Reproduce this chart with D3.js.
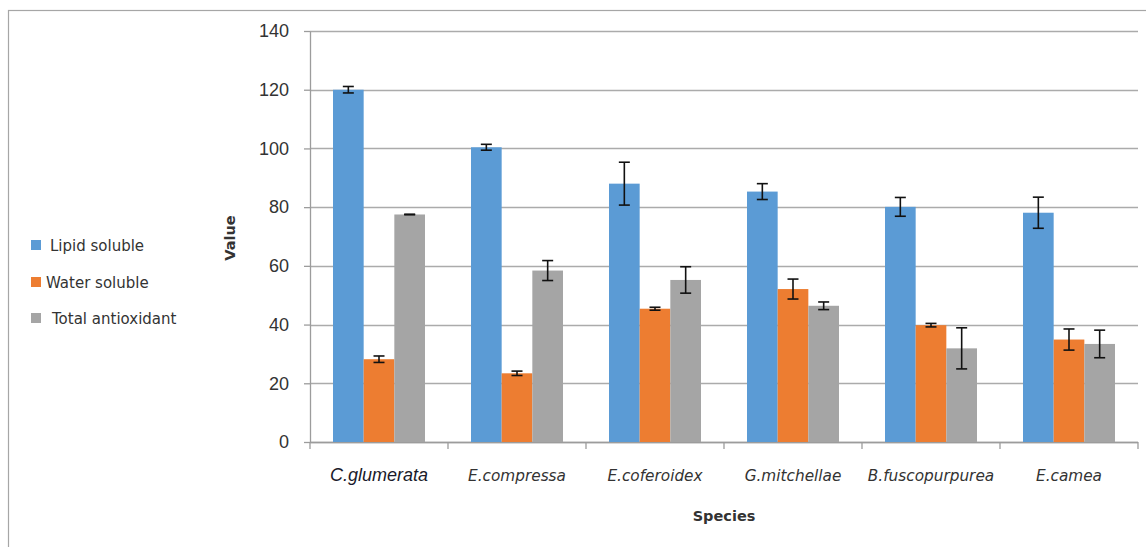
<!DOCTYPE html>
<html><head><meta charset="utf-8">
<script src="https://cdn.jsdelivr.net/npm/d3@7/dist/d3.min.js"></script>
<style>html,body{margin:0;padding:0;background:#fff;}svg{display:block;}</style>
</head><body>
<svg id="chart" width="1146" height="547"></svg>
<script>
const categories = ["C.glumerata","E.compressa","E.coferoidex","G.mitchellae","B.fuscopurpurea","E.camea"];
const seriesNames = ["Lipid soluble","Water soluble","Total antioxidant"];
const lipid    = [120.0, 100.4, 88.0, 85.3, 80.1, 78.1];
const lipidErr = [1.1, 1.0, 7.3, 2.7, 3.2, 5.3];
const water    = [28.2, 23.4, 45.4, 52.1, 39.8, 34.9];
const waterErr = [1.1, 0.75, 0.5, 3.4, 0.6, 3.6];
const total    = [77.5, 58.4, 55.2, 46.4, 31.9, 33.4];
const totalErr = [0.1, 3.4, 4.5, 1.3, 7.0, 4.7];
const yTicks = [0,20,40,60,80,100,120,140];
const colors = ["#5B9BD5","#ED7D31","#A5A5A5"];

(function(){
const values = [lipid, water, total];
const errs = [lipidErr, waterErr, totalErr];
const svg = d3.select("#chart");

// outer chart border
svg.append("rect").attr("x",8.5).attr("y",10.5).attr("width",1160).attr("height",560)
  .attr("fill","none").attr("stroke","#A6A6A6").attr("stroke-width",1.2);

const pL = 310, pR = 1138, pT = 31, pB = 442;
const y = d3.scaleLinear().domain([0,140]).range([pB, pT]);
const x0 = d3.scaleBand().domain(categories).range([pL, pR]).paddingInner(0).paddingOuter(0);
const groupW = x0.bandwidth() / 1.5;
const x1 = d3.scaleBand().domain(seriesNames).range([0, groupW]);
const off = (x0.bandwidth() - groupW) / 2;

// gridlines
svg.append("g").selectAll("line").data(yTicks).join("line")
  .attr("x1", pL).attr("x2", pR)
  .attr("y1", d => Math.round(y(d)) + 0.5).attr("y2", d => Math.round(y(d)) + 0.5)
  .attr("stroke","#ABABAB").attr("stroke-width",1.3);

// y axis
const yAxis = d3.axisLeft(y).tickValues(yTicks).tickSize(6).tickSizeOuter(0).tickPadding(15);
const yg = svg.append("g").attr("transform", `translate(${pL},0)`).call(yAxis);
yg.select(".domain").attr("stroke","#9C9C9C").attr("stroke-width",1.3);
yg.selectAll(".tick line").attr("stroke","#9C9C9C").attr("stroke-width",1.3);
yg.selectAll(".tick text").attr("font-family","'Liberation Sans', Arial, sans-serif")
  .attr("font-size",18).attr("fill","#333");

// x axis line & category boundary ticks
svg.append("line").attr("x1", pL).attr("x2", pR).attr("y1", pB + 0.5).attr("y2", pB + 0.5)
  .attr("stroke","#9C9C9C").attr("stroke-width",1.3);
const bounds = categories.map(c => x0(c)).concat([pR]);
svg.append("g").selectAll("line").data(bounds).join("line")
  .attr("x1", d => d).attr("x2", d => d).attr("y1", pB).attr("y2", pB + 7)
  .attr("stroke","#9C9C9C").attr("stroke-width",1.3);

// bars
const data = [];
categories.forEach((c, i) => seriesNames.forEach((s, j) => data.push({c, s, j, v: values[j][i], e: errs[j][i]})));
svg.append("g").selectAll("rect").data(data).join("rect")
  .attr("x", d => x0(d.c) + off + x1(d.s))
  .attr("width", x1.bandwidth())
  .attr("y", d => y(d.v))
  .attr("height", d => y(0) - y(d.v))
  .attr("fill", d => colors[d.j]);

// error bars
const eg = svg.append("g").attr("stroke","#111").attr("stroke-width",1.6).attr("fill","none");
data.forEach(d => {
  const cx = x0(d.c) + off + x1(d.s) + x1.bandwidth() / 2;
  const y1 = y(d.v + d.e), y2 = y(d.v - d.e);
  eg.append("line").attr("x1", cx).attr("x2", cx).attr("y1", y1).attr("y2", y2);
  eg.append("line").attr("x1", cx - 5.5).attr("x2", cx + 5.5).attr("y1", y1).attr("y2", y1);
  eg.append("line").attr("x1", cx - 5.5).attr("x2", cx + 5.5).attr("y1", y2).attr("y2", y2);
});

// category labels
svg.append("g").selectAll("text").data(categories).join("text")
  .attr("x", d => x0(d) + x0.bandwidth() / 2)
  .attr("y", 481)
  .attr("text-anchor","middle")
  .attr("font-style","italic")
  .attr("font-family", (d, i) => i === 0 ? "'Liberation Sans', Arial, sans-serif" : "'DejaVu Sans', sans-serif")
  .attr("font-size", (d, i) => i === 0 ? 18 : 15.3)
  .attr("fill", (d, i) => i === 0 ? "#1a1a2a" : "#333")
  .text(d => d);

// axis titles
svg.append("text").attr("x", (pL + pR) / 2).attr("y", 521).attr("text-anchor","middle")
  .attr("font-family","'DejaVu Sans', sans-serif").attr("font-weight","bold").attr("font-size",14.5)
  .attr("fill","#333").text("Species");
svg.append("text").attr("transform","translate(235,238) rotate(-90)").attr("text-anchor","middle")
  .attr("font-family","'DejaVu Sans', sans-serif").attr("font-weight","bold").attr("font-size",14.5)
  .attr("fill","#333").text("Value");

// legend
const lg = svg.append("g");
const legY = [240, 277, 313];
const legTX = [50, 46, 52];
seriesNames.forEach((s, j) => {
  lg.append("rect").attr("x", 31).attr("y", legY[j]).attr("width", 10).attr("height", 10).attr("fill", colors[j]);
  lg.append("text").attr("x", legTX[j]).attr("y", legY[j] + 11).attr("font-family","'DejaVu Sans', sans-serif")
    .attr("font-size", 15).attr("fill","#333").text(s);
});
})();
</script>
</body></html>
